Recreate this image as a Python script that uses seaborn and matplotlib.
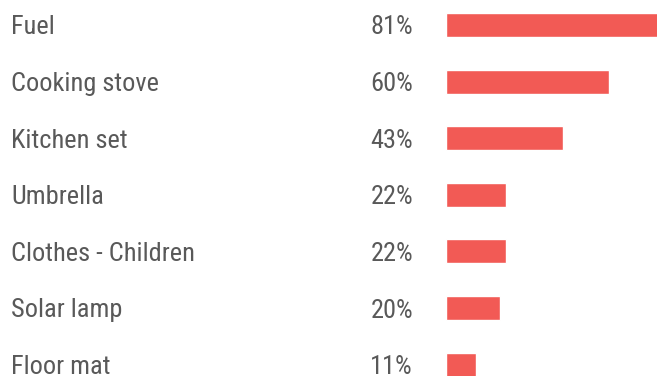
import matplotlib
matplotlib.use("Agg")
import matplotlib.pyplot as plt
import matplotlib.transforms as mtransforms
import pandas as pd
import seaborn as sns

sns.set_style("white")
plt.rcParams["font.family"] = ["Roboto Condensed", "Liberation Sans", "DejaVu Sans"]

items = ["Fuel", "Cooking stove", "Kitchen set", "Umbrella",
         "Clothes - Children", "Solar lamp", "Floor mat"]
shares = [81, 60, 43, 22, 22, 20, 11]
pct_labels = [f"{v}%" for v in shares]

W, H = 657, 376
BAR_COLOR = "#F25A55"
TEXT_COLOR = "#595959"

df = pd.DataFrame({"item": items, "share": shares})

fig = plt.figure(figsize=(W / 100, H / 100), dpi=100)
# bar area: starts at x=446px, 100% = 272px; rows 56.6px apart, first centred at y=25px
row = 56.6
ax = fig.add_axes([446 / W, 0, 272 / W, 1])
sns.barplot(data=df, y="item", x="share", orient="h", color=BAR_COLOR,
            saturation=1, width=24 / row, ax=ax)
ax.set_xlim(0, 100)
ax.set_ylim((H - 25) / row, -25 / row)
ax.axis("off")

trans = mtransforms.blended_transform_factory(fig.transFigure, ax.transData)
base = 9.5 / row  # baseline sits ~10px below the bar centre
for i, (name, pct) in enumerate(zip(items, pct_labels)):
    ax.text(11 / W, i + base, name, transform=trans, ha="left", va="baseline",
            fontsize=19, color=TEXT_COLOR, clip_on=False)
    ax.text(413 / W, i + base, pct, transform=trans, ha="right", va="baseline",
            fontsize=19, color=TEXT_COLOR, clip_on=False)

fig.savefig("out.png", dpi=100)
